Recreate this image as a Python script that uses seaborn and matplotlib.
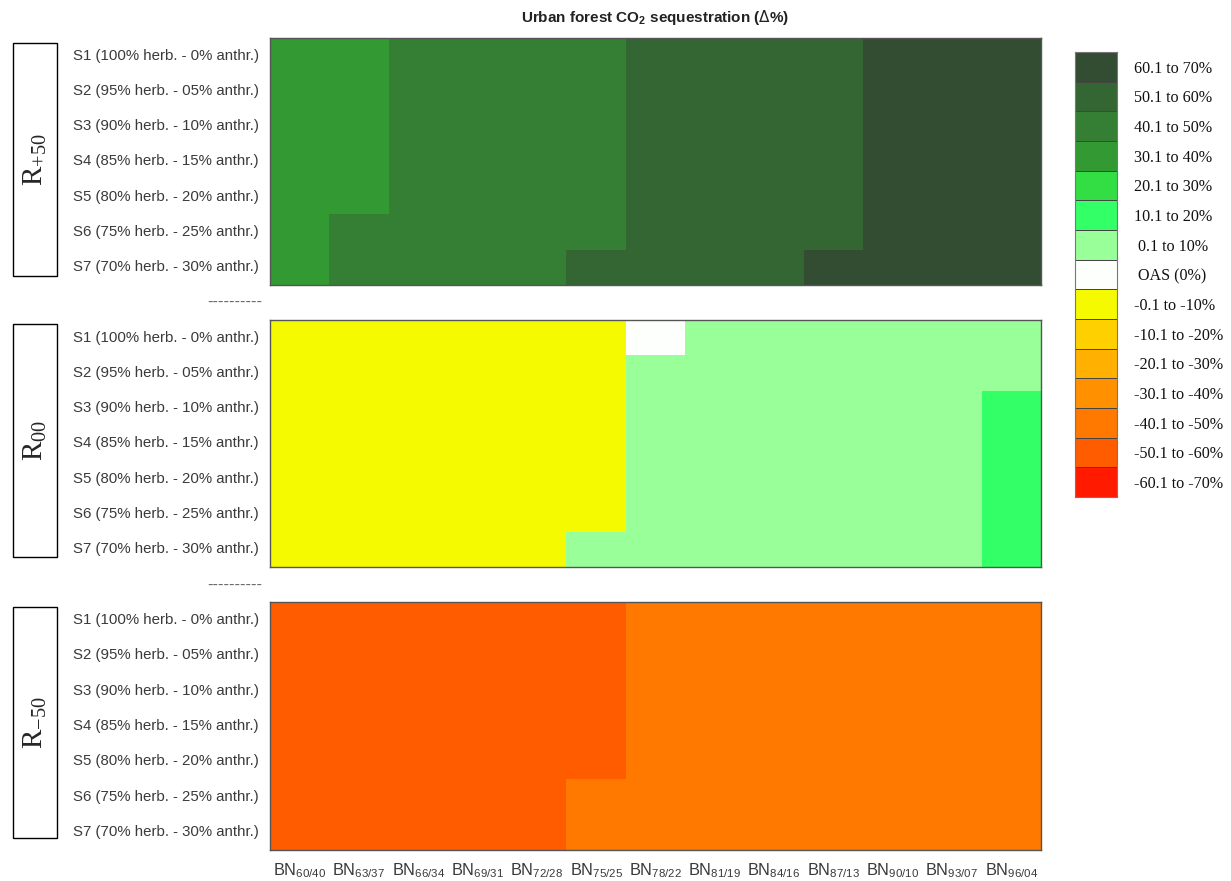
#%% Urban forest CO2 sequestration heatmaps
import numpy as np
import matplotlib.pyplot as plt
import seaborn as sns
from matplotlib.colors import ListedColormap, BoundaryNorm
from matplotlib.patches import Rectangle

sns.set_style('white')
plt.rcParams['font.family'] = ['Liberation Sans', 'DejaVu Sans']

# Rows (scenarios) and columns (BN ratios)
scenarios = ['S1 (100% herb. - 0% anthr.)', 'S2 (95% herb. - 05% anthr.)',
             'S3 (90% herb. - 10% anthr.)', 'S4 (85% herb. - 15% anthr.)',
             'S5 (80% herb. - 20% anthr.)', 'S6 (75% herb. - 25% anthr.)',
             'S7 (70% herb. - 30% anthr.)']
bn_ratios = ['60/40', '63/37', '66/34', '69/31', '72/28', '75/25', '78/22',
             '81/19', '84/16', '87/13', '90/10', '93/07', '96/04']

# Class mid values (Delta %)
r_plus50 = [
    [35, 35, 45, 45, 45, 45, 55, 55, 55, 55, 65, 65, 65],
    [35, 35, 45, 45, 45, 45, 55, 55, 55, 55, 65, 65, 65],
    [35, 35, 45, 45, 45, 45, 55, 55, 55, 55, 65, 65, 65],
    [35, 35, 45, 45, 45, 45, 55, 55, 55, 55, 65, 65, 65],
    [35, 35, 45, 45, 45, 45, 55, 55, 55, 55, 65, 65, 65],
    [35, 45, 45, 45, 45, 45, 55, 55, 55, 55, 65, 65, 65],
    [35, 45, 45, 45, 45, 55, 55, 55, 55, 65, 65, 65, 65],
]
r_00 = [
    [-5, -5, -5, -5, -5, -5, 0, 5, 5, 5, 5, 5, 5],
    [-5, -5, -5, -5, -5, -5, 5, 5, 5, 5, 5, 5, 5],
    [-5, -5, -5, -5, -5, -5, 5, 5, 5, 5, 5, 5, 15],
    [-5, -5, -5, -5, -5, -5, 5, 5, 5, 5, 5, 5, 15],
    [-5, -5, -5, -5, -5, -5, 5, 5, 5, 5, 5, 5, 15],
    [-5, -5, -5, -5, -5, -5, 5, 5, 5, 5, 5, 5, 15],
    [-5, -5, -5, -5, -5, 5, 5, 5, 5, 5, 5, 5, 15],
]
r_minus50 = [
    [-55, -55, -55, -55, -55, -55, -45, -45, -45, -45, -45, -45, -45],
    [-55, -55, -55, -55, -55, -55, -45, -45, -45, -45, -45, -45, -45],
    [-55, -55, -55, -55, -55, -55, -45, -45, -45, -45, -45, -45, -45],
    [-55, -55, -55, -55, -55, -55, -45, -45, -45, -45, -45, -45, -45],
    [-55, -55, -55, -55, -55, -55, -45, -45, -45, -45, -45, -45, -45],
    [-55, -55, -55, -55, -55, -45, -45, -45, -45, -45, -45, -45, -45],
    [-55, -55, -55, -55, -55, -45, -45, -45, -45, -45, -45, -45, -45],
]
panel_names = [r'R$_{\mathregular{+50}}$', r'R$_{\mathregular{00}}$', r'R$_{\mathregular{-50}}$']

# Legend classes (top to bottom)
class_labels = ['60.1 to 70%', '50.1 to 60%', '40.1 to 50%', '30.1 to 40%',
                '20.1 to 30%', '10.1 to 20%', ' 0.1 to 10%', ' OAS (0%)',
                '-0.1 to -10%', '-10.1 to -20%', '-20.1 to -30%', '-30.1 to -40%',
                '-40.1 to -50%', '-50.1 to -60%', '-60.1 to -70%']
class_values = [65, 55, 45, 35, 25, 15, 5, 0, -5, -15, -25, -35, -45, -55, -65]
class_colors = ['#334d33', '#336633', '#347f34', '#339933', '#33dd44', '#33ff66',
                '#99ff99', '#fdfffd', '#f6fa00', '#ffd000', '#ffb000', '#ff9000',
                '#ff7800', '#ff5c00', '#ff1a00']

bounds = [-70, -60, -50, -40, -30, -20, -10, -0.05, 0.05, 10, 20, 30, 40, 50, 60, 70]
cmap = ListedColormap(class_colors[::-1])
norm = BoundaryNorm(bounds, cmap.N)

fig = plt.figure(figsize=(12.31, 8.81), dpi=100)

panels = [r_plus50, r_00, r_minus50]
ax_rects = [[0.2193, 0.6765, 0.6263, 0.2804],
            [0.2193, 0.3564, 0.6263, 0.2804],
            [0.2193, 0.0352, 0.6263, 0.2815]]
box_rects = [[0.0106, 0.6867, 0.0357, 0.2645],
             [0.0106, 0.3678, 0.0357, 0.2645],
             [0.0106, 0.0488, 0.0357, 0.2622]]
tick_color = '#3a3a3a'

for i, (data, rect) in enumerate(zip(panels, ax_rects)):
    ax = fig.add_axes(rect)
    sns.heatmap(np.array(data), ax=ax, cmap=cmap, norm=norm, cbar=False,
                xticklabels=[r'BN$_{\mathregular{%s}}$' % b for b in bn_ratios],
                yticklabels=scenarios)
    for sp in ax.spines.values():
        sp.set_visible(True)
        sp.set_color('#555555')
        sp.set_linewidth(1.0)
    ax.tick_params(length=0, colors=tick_color)
    ax.tick_params(axis='y', pad=8, labelsize=10.8)
    ax.tick_params(axis='x', labelsize=11.8)
    plt.setp(ax.get_yticklabels(), rotation=0)
    plt.setp(ax.get_xticklabels(), rotation=0)
    if i < 2:
        ax.set_xticklabels([])
    else:
        ax.tick_params(axis='x', pad=8)

    # Boxed panel name on the left
    bx, by, bw, bh = box_rects[i]
    fig.patches.append(Rectangle((bx, by), bw, bh, transform=fig.transFigure,
                                 fill=False, edgecolor='black', linewidth=1.0))
    fig.text(bx + bw / 2, by + bh / 2, panel_names[i], rotation=90,
             ha='center', va='center', fontsize=21,
             family=['Liberation Serif', 'DejaVu Serif'])

# Dashed separators between the panels
for ys in [0.6572, 0.336]:
    fig.text(0.2128, ys, '----------', ha='right', va='center',
             fontsize=12, color='#666666')

fig.text(0.532, 0.9796, r'Urban forest CO$_{\mathregular{2}}$ sequestration ($\Delta$%)',
         ha='center', va='center', fontsize=11, fontweight='bold', color='#222222')

# Legend as a column of class cells
lax = fig.add_axes([0.8733, 0.4359, 0.0341, 0.5051])
sns.heatmap(np.array(class_values).reshape(-1, 1), ax=lax, cmap=cmap, norm=norm,
            cbar=False, linewidths=0.7, linecolor='#444444',
            xticklabels=False, yticklabels=class_labels)
for sp in lax.spines.values():
    sp.set_visible(True)
    sp.set_color('#777777')
lax.yaxis.tick_right()
lax.tick_params(length=0, pad=12, labelsize=11.6)
plt.setp(lax.get_yticklabels(), rotation=0, ha='left',
         family=['Liberation Serif', 'DejaVu Serif'], color='#111111')

plt.savefig('out.png', dpi=100)
